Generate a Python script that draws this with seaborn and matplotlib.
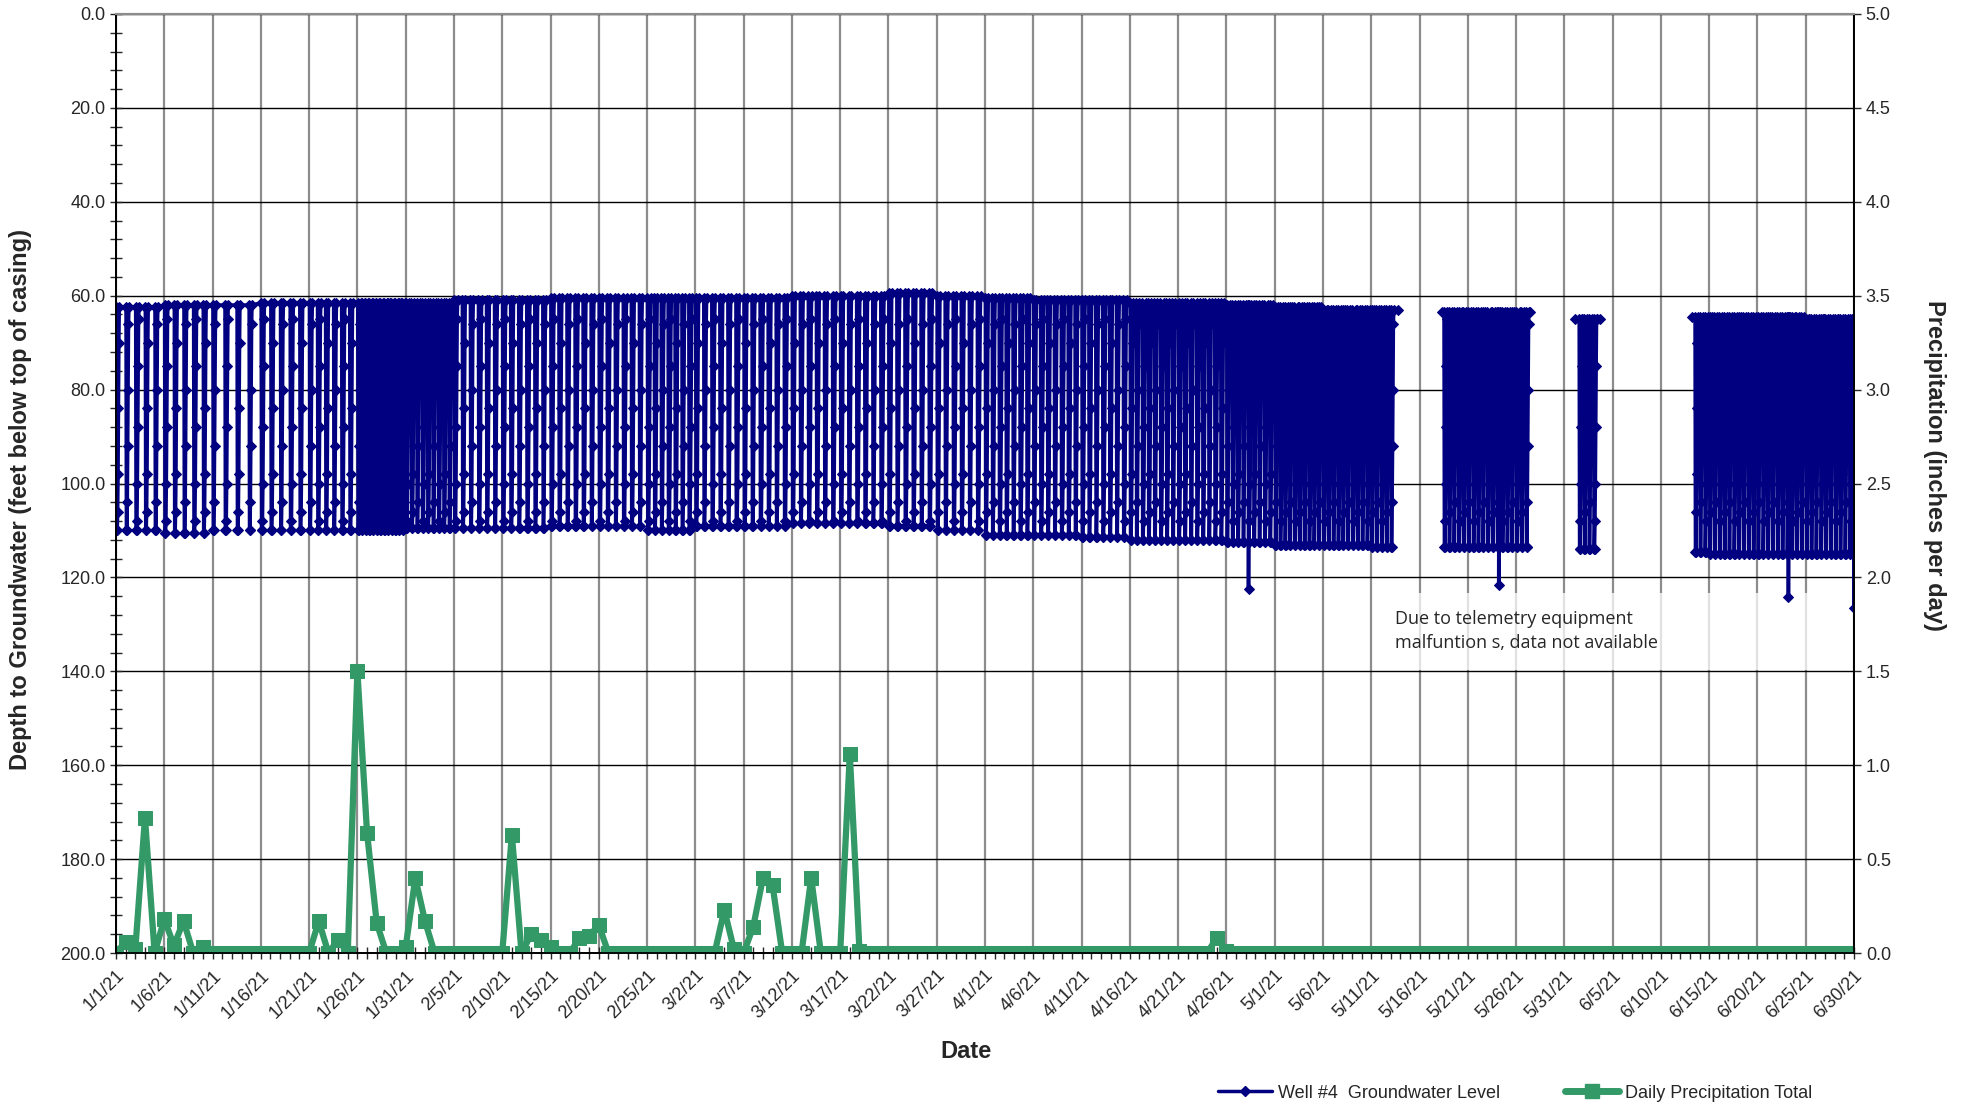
import numpy as np
import pandas as pd
import seaborn as sns
import matplotlib.pyplot as plt
import matplotlib.dates as mdates
from matplotlib.lines import Line2D
from matplotlib.patches import Rectangle
from matplotlib.ticker import MultipleLocator, FormatStrFormatter, FixedLocator, NullLocator

sns.set_style("white")
plt.rcParams['font.family'] = ['Liberation Sans', 'DejaVu Sans']

# ---- daily precipitation total (inches), 1/1/21 .. 6/30/21 ----
precip = ([0, 0.06, 0.02, 0.72, 0, 0.18, 0.04, 0.17, 0, 0.03] +      # 1/1 - 1/10
          [0] * 10 +                                                   # 1/11 - 1/20
          [0, 0.17, 0, 0.07, 0, 1.50, 0.64, 0.16, 0, 0] +              # 1/21 - 1/30
          [0.03, 0.40, 0.17, 0, 0, 0, 0, 0, 0, 0] +                    # 1/31 - 2/9
          [0, 0.63, 0, 0.10, 0.07, 0.03, 0, 0, 0.08, 0.09] +           # 2/10 - 2/19
          [0.15, 0, 0, 0, 0, 0, 0, 0, 0, 0] +                          # 2/20 - 3/1
          [0, 0, 0, 0.23, 0.02, 0, 0.14, 0.40, 0.36, 0] +              # 3/2 - 3/11
          [0, 0, 0.40, 0, 0, 0, 1.06, 0.01, 0, 0] +                    # 3/12 - 3/21
          [0] * 30 +                                                   # 3/22 - 4/20
          [0, 0, 0, 0, 0.08, 0.01, 0, 0, 0, 0] +                       # 4/21 - 4/30
          [0] * 61)                                                    # 5/1 - 6/30

# ---- well #4 groundwater level, per 5-day period starting at each tick date ----
# level between pumping cycles (top of the band), feet below casing
gw_top = [62.5, 62.0, 62.0, 61.5, 61.5, 61.5, 61.5, 61.0, 61.0, 60.5,
          60.5, 60.5, 60.5, 60.5, 60.0, 60.0, 59.5, 60.0, 60.5, 61.0,
          61.0, 61.5, 61.5, 62.0, 62.5, 63.0, 63.0, 63.5, 63.5, 63.5,
          65.0, 65.0, 64.5, 64.5, 64.5, 65.0, 65.0]
# pumped level (bottom of the band)
gw_bottom = [110.0, 110.5, 110.0, 110.0, 110.0, 110.0, 109.5, 109.5, 109.5, 109.0,
             109.0, 110.0, 109.0, 109.0, 108.5, 108.5, 109.0, 110.0, 111.0, 111.0,
             111.5, 112.0, 112.0, 112.5, 113.0, 113.0, 113.5, 113.5, 113.5, 113.5,
             114.0, 114.0, 114.5, 115.0, 115.0, 115.0, 115.0]
# number of pumping drawdowns in each 5-day period
gw_drops = [5, 5, 4, 5, 6, 13, 9, 6, 6, 6,
            6, 7, 6, 6, 6, 6, 6, 6, 7, 7,
            7, 8, 8, 9, 10, 10, 10, 10, 10, 10,
            10, 10, 10, 10, 10, 10, 2]
# readings seen along the recovery limb of a drawdown (three typical cycles)
gw_recovery = [[106, 98, 84, 70],
               [104, 92, 80, 66],
               [108, 100, 88, 75, 65]]
# periods with telemetry data
gw_blocks = [("2021-01-01 00:00", "2021-05-13 19:00"),
             ("2021-05-18 07:00", "2021-05-27 10:00"),
             ("2021-06-01 02:00", "2021-06-03 17:00"),
             ("2021-06-13 05:00", "2021-06-30 00:00")]
# single deep readings
gw_spikes = [("2021-04-28 07:00", 122.5),
             ("2021-05-24 05:00", 121.6),
             ("2021-06-23 05:00", 124.1),
             ("2021-06-30 00:00", 126.5)]

tick_dates = pd.date_range("2021-01-01", "2021-06-30", freq="5D")
day_dates = pd.date_range("2021-01-01", "2021-06-30", freq="D")

# ---- build the readings table ----
H = pd.Timedelta(hours=1)
rows = []
n_cycle = 0
for b, (b0, b1) in enumerate(gw_blocks):
    b0, b1 = pd.Timestamp(b0), pd.Timestamp(b1)
    seg0 = (b0 - tick_dates[0]).days // 5
    seg1 = min((b1 - tick_dates[0]).days // 5, len(tick_dates) - 1)
    rows.append((b0, gw_top[seg0], b))
    for i, s in enumerate(tick_dates):
        n = gw_drops[i]
        for k in range(n):
            t = s + pd.Timedelta(days=5 * k / n) + H
            rec = gw_recovery[n_cycle % len(gw_recovery)]
            if b0 < t and t + (3 + len(rec)) * H < b1:
                n_cycle += 1
                rows += [(t, gw_top[i], b), (t + H, gw_bottom[i], b),
                         (t + 2 * H, gw_bottom[i], b)]
                rows += [(t + (3 + j) * H, d, b) for j, d in enumerate(rec)]
                rows.append((t + (3 + len(rec)) * H, gw_top[i], b))
    for ts, d in gw_spikes:
        t = pd.Timestamp(ts)
        if b0 <= t <= b1:
            i = (t - tick_dates[0]).days // 5
            rows += [(t - H, gw_top[i], b), (t, d, b), (t + 2 * H, gw_top[i], b)]
    if b < len(gw_blocks) - 1:
        rows.append((b1, gw_top[seg1], b))

gw = pd.DataFrame(rows, columns=["time", "depth", "block"]).sort_values(["block", "time"])
pr = pd.DataFrame({"date": day_dates, "precip": precip})

navy = "#000080"
green = "#339966"

fig = plt.figure(figsize=(19.69, 11.08), dpi=100)
ax = fig.add_axes([116 / 1969, 1 - 953 / 1108, (1854 - 116) / 1969, (953 - 14) / 1108])
ax2 = ax.twinx()

sns.lineplot(data=gw, x="time", y="depth", units="block", estimator=None, sort=False,
             color=navy, linewidth=2.6, marker="D", markersize=5.5, markeredgecolor=navy,
             legend=False, ax=ax, zorder=3)
sns.lineplot(data=pr, x="date", y="precip", color=green, linewidth=4.5, marker="s",
             markersize=10, markeredgecolor=green, legend=False, ax=ax2)

# axes
ax.set_xlim(day_dates[0], day_dates[-1])
ax.set_ylim(200, 0)
ax.yaxis.set_major_locator(MultipleLocator(20))
ax.yaxis.set_minor_locator(MultipleLocator(4))
ax.yaxis.set_major_formatter(FormatStrFormatter("%.1f"))
ax2.set_ylim(0, 5)
ax2.yaxis.set_major_locator(MultipleLocator(0.5))
ax2.yaxis.set_minor_locator(NullLocator())
ax2.yaxis.set_major_formatter(FormatStrFormatter("%.1f"))

ax.xaxis.set_major_locator(FixedLocator(mdates.date2num(tick_dates)))
ax.xaxis.set_minor_locator(FixedLocator(mdates.date2num(day_dates)))
ax.set_xticklabels([f"{d.month}/{d.day}/21" for d in tick_dates], rotation=45,
                   ha="right", rotation_mode="anchor")
ax.tick_params(axis="x", which="both", direction="inout", length=8, width=1,
               labelsize=13, pad=6, bottom=True)
ax.tick_params(axis="y", which="both", direction="inout", length=8, width=1,
               labelsize=13, left=True)
ax2.tick_params(axis="y", direction="out", length=5, width=1, labelsize=13, right=True)

ax.set_xlabel("")
ax.set_ylabel("")
ax2.set_ylabel("")

ax.set_axisbelow(True)
ax2.grid(False)
ax.grid(False, which="minor")
ax.yaxis.grid(True, which="major", color="black", linewidth=1.0)
ax.xaxis.grid(True, which="major", color="#8c8c8c", linewidth=1.6)
for a in (ax, ax2):
    a.spines["top"].set_color("#8c8c8c")
    a.spines["top"].set_linewidth(1.5)
    for s in ("left", "right", "bottom"):
        a.spines[s].set_color("black")
        a.spines[s].set_linewidth(1.3)

# note box
ax.add_patch(Rectangle(((1380 - 116) / 1738, (953 - 670) / 939), 465 / 1738, 77 / 939,
                       transform=ax.transAxes, facecolor="white", alpha=0.75,
                       edgecolor="none", zorder=1))
ax.text((1395 - 116) / 1738, (953 - 631) / 939,
        "Due to telemetry equipment\nmalfuntion s, data not available",
        transform=ax.transAxes, ha="left", va="center", fontsize=13,
        family=["Open Sans", "DejaVu Sans"], linespacing=1.5, zorder=2)

# labels
fig.text(21 / 1969, 1 - 499 / 1108, "Depth to Groundwater (feet below top of casing)",
         rotation=90, ha="center", va="center", fontsize=17, fontweight="bold")
fig.text(1934 / 1969, 1 - 465 / 1108, "Precipitation (inches per day)",
         rotation=-90, ha="center", va="center", fontsize=17, fontweight="bold")
fig.text(966 / 1969, 1 - 1051 / 1108, "Date", ha="center", va="center",
         fontsize=17, fontweight="bold")

handles = [Line2D([], [], color=navy, linewidth=2.5, marker="D", markersize=5),
           Line2D([], [], color=green, linewidth=5, marker="s", markersize=10)]
fig.legend(handles, ["Well #4  Groundwater Level", "Daily Precipitation Total"],
           loc="center", bbox_to_anchor=(1515 / 1969, 1 - 1093 / 1108), ncol=2,
           frameon=False, fontsize=13, handlelength=3.0, columnspacing=3.6,
           handletextpad=0.3)

fig.savefig("out.png", dpi=100)
